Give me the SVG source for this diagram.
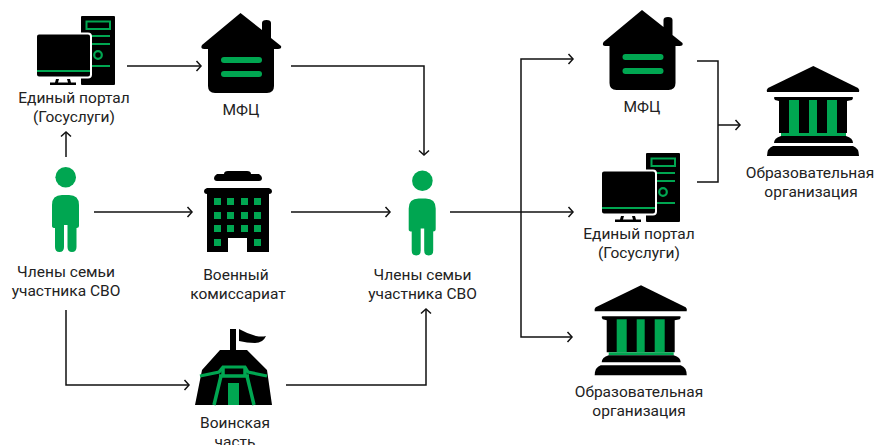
<svg xmlns="http://www.w3.org/2000/svg" width="874" height="445" viewBox="0 0 874 445">
<style>
text{font-family:Roboto,"Liberation Sans",sans-serif;font-size:15.500px;fill:#222;text-anchor:middle}
.c{fill:none;stroke:#111;stroke-width:1.5}
.g{fill:#00a651}
.gs{fill:none;stroke:#00a651}
.k{fill:#000}
</style>
<defs>
<marker id="a" markerUnits="userSpaceOnUse" markerWidth="12" markerHeight="14" refX="9" refY="7" orient="auto"><path d="M4.500 2L9 7L4.500 12" fill="none" stroke="#111" stroke-width="1.5"/></marker>
<symbol id="pc" overflow="visible"><rect class="k" x="81" y="16" width="34" height="69" rx="1"/><rect x="86.500" y="21.500" width="23.500" height="7.500" fill="none" stroke="#00a651" stroke-width="2"/><path d="M91 36H110M91 44H110M92 66H110" stroke="#00a651" stroke-width="2" fill="none"/><circle cx="98" cy="55" r="3.800" fill="none" stroke="#00a651" stroke-width="2.200"/><rect class="k" x="36" y="33.500" width="55" height="44" rx="3" stroke="#fff" stroke-width="2"/><path d="M37 71H90" stroke="#00a651" stroke-width="2.200"/><path class="k" d="M50 85V82.500H55L56 79H59L58 82.500H68L67 79H70L71 82.500H76V85Z"/></symbol>
<symbol id="house" overflow="visible"><path class="k" d="M240.500 13L262 30V23Q262 20 266.500 20Q271 20 271 23V38L281 46Q282 49 278 49H274V86Q274 93 267 93H215Q208 93 208 86V49H204Q200 49 202 45Z"/><rect class="g" x="221" y="57" width="41" height="6" rx="3"/><rect class="g" x="221" y="71" width="41" height="6" rx="3"/></symbol>
<symbol id="person" overflow="visible"><circle class="g" cx="65.700" cy="177.300" r="10.300"/><path class="g" d="M52 205Q52 195 62 195H69Q79 195 79 205V226Q79 228 76.500 228V247Q76.500 252 72 252Q67.500 252 67.500 247V225H64V247Q64 252 59.500 252Q55 252 55 247V228Q52 228 52 226Z"/></symbol>
<symbol id="temple" overflow="visible"><path class="k" d="M813.300 66L858 88Q860 90 859 92H767Q766 90 768 88Z"/><path class="k" d="M775 97H852Q854 97 852 100L847 101V133H779V101L775 100Q773 97 775 97Z"/><rect class="g" x="789" y="100" width="10" height="33"/><rect class="g" x="809" y="100" width="8" height="33"/><rect class="g" x="827" y="100" width="10" height="33"/><rect class="g" x="781" y="133" width="65" height="3"/><path class="k" d="M781 136H846Q853 138 853 143H774Q774 138 781 136Z"/><path class="k" d="M773 146H853Q859 148 859 156H767Q767 148 773 146Z"/></symbol>
</defs>
<g id="connectors">
<path class="c" marker-end="url(#a)" d="M127 66H201"/>
<path class="c" marker-end="url(#a)" d="M66 157V132"/>
<path class="c" marker-end="url(#a)" d="M94 212H192"/>
<path class="c" marker-end="url(#a)" d="M291 212H390"/>
<path class="c" marker-end="url(#a)" d="M291 66H424V155"/>
<path class="c" marker-end="url(#a)" d="M66 310V385H189"/>
<path class="c" marker-end="url(#a)" d="M286 385H426V309"/>
<path class="c" marker-end="url(#a)" d="M450 212H573"/>
<path class="c" marker-end="url(#a)" d="M521 212V59H573"/>
<path class="c" marker-end="url(#a)" d="M521 212V337H572"/>
<path class="c" d="M697 61H718V182H697"/>
<path class="c" marker-end="url(#a)" d="M718 125H740"/>
</g>
<g id="portal-1"><use href="#pc"/><text x="74" y="103">Единый портал</text><text x="74" y="122">(Госуслуги)</text></g>
<g id="mfc-1"><use href="#house"/><text x="241" y="115">МФЦ</text></g>
<g id="family-1"><use href="#person"/><text x="66" y="277">Члены семьи</text><text x="66" y="296">участника СВО</text></g>
<g id="commissariat"><path class="k" d="M224 174Q224 171 228 171H247Q251 171 251 174H259Q262 176 262 178Q262 181 259 181H217Q214 181 214 178Q214 176 217 174Z"/><path class="k" d="M207 188H269Q272 189 272 191Q272 194 269 194V252H247V238H228V252H207V194Q204 194 204 191Q204 189 207 188Z"/><path class="g" d="M214 198h7v7h-7zM227 198h7v7h-7zM241 198h7v7h-7zM254 198h7v7h-7zM214 212h7v7h-7zM227 212h7v7h-7zM241 212h7v7h-7zM254 212h7v7h-7zM214 225h7v7h-7zM227 225h7v7h-7zM241 225h7v7h-7zM254 225h7v7h-7zM214 239h7v7h-7zM254 239h7v7h-7z"/><text x="236" y="280">Военный</text><text x="238" y="299">комиссариат</text></g>
<g id="unit"><path class="k" d="M230 329H236V350H247L267 370L272 405H195L202 370L220 350H230Z"/><path class="k" d="M239 329Q248 334 256 336Q262 337 266 336Q263 343 255 343Q247 343 239 341Z"/><path class="gs" stroke-width="3.200" d="M200 376L219 372L223 367H245L248 372L267 376"/><path class="gs" stroke-width="3.500" d="M223 367V376M245 367V376M219 376H249M221 376L214 405M247 376L254 405"/><rect class="g" x="228" y="383" width="11" height="22"/><text x="235" y="428">Воинская</text><text x="235" y="447">часть</text></g>
<g id="family-2"><use href="#person" x="356.700" y="3.400"/><text x="422.500" y="280">Члены семьи</text><text x="422.500" y="299">участника СВО</text></g>
<g id="mfc-2"><use href="#house" x="401.500" y="-3"/><text x="642" y="112">МФЦ</text></g>
<g id="portal-2"><use href="#pc" x="565" y="137"/><text x="639" y="239">Единый портал</text><text x="639" y="258">(Госуслуги)</text></g>
<g id="edu-1"><use href="#temple"/><text x="810" y="178">Образовательная</text><text x="811" y="197">организация</text></g>
<g id="edu-2"><use href="#temple" x="-172.300" y="219.300"/><text x="639" y="397">Образовательная</text><text x="639" y="416">организация</text></g>
</svg>
